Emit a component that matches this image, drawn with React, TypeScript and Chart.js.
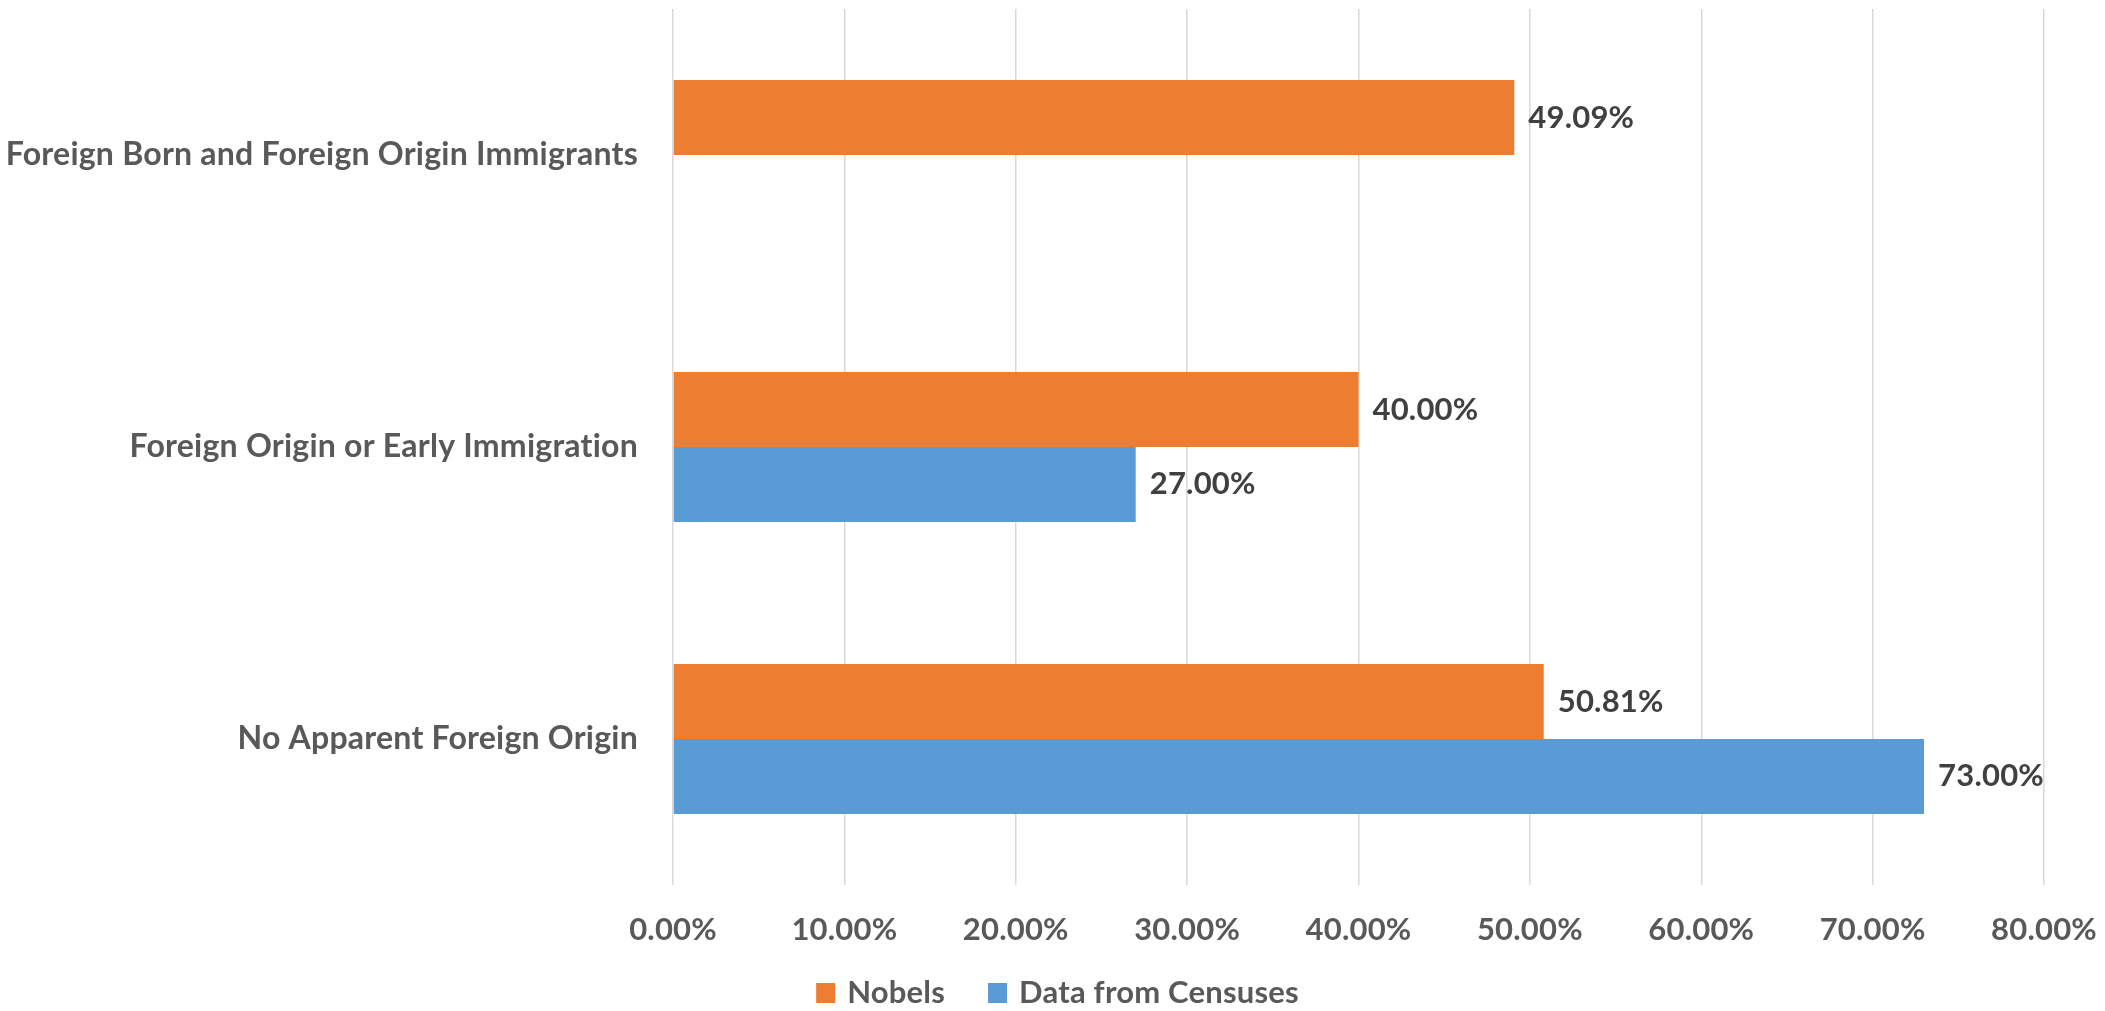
import React, { useEffect, useRef } from 'react';
import { Chart, registerables } from 'chart.js';

Chart.register(...registerables);

const categories = [
  'Foreign Born and Foreign Origin Immigrants',
  'Foreign Origin or Early Immigration',
  'No Apparent Foreign Origin',
];
const seriesNames = ['Nobels', 'Data from Censuses'];
const nobels = [49.09, 40.0, 50.81];
const censuses = [null, 27.0, 73.0];
const xTickValues = [0, 10, 20, 30, 40, 50, 60, 70, 80];
const xTickLabels = ['0.00%', '10.00%', '20.00%', '30.00%', '40.00%', '50.00%', '60.00%', '70.00%', '80.00%'];

const FONT = 'Lato';
const ORANGE = '#ED7D31';
const BLUE = '#5B9BD5';

const textStylePlugin = {
  id: 'textStyle',
  beforeDraw(chart: any) {
    const ctx = chart.ctx as any;
    if ('letterSpacing' in ctx) ctx.letterSpacing = '0.2px';
  },
};

const dataLabelPlugin = {
  id: 'dataLabels',
  afterDatasetsDraw(chart: any) {
    const ctx = chart.ctx;
    ctx.save();
    ctx.font = `bold 31px ${FONT}`;
    ctx.fillStyle = '#404040';
    ctx.textAlign = 'left';
    ctx.textBaseline = 'middle';
    chart.data.datasets.forEach((ds: any, di: number) => {
      const meta = chart.getDatasetMeta(di);
      meta.data.forEach((bar: any, i: number) => {
        const v = ds.data[i];
        if (v == null) return;
        ctx.fillText(v.toFixed(2) + '%', bar.x + 14, bar.y);
      });
    });
    ctx.restore();
  },
};

const legendPlugin = {
  id: 'customLegend',
  afterDraw(chart: any) {
    const ctx = chart.ctx;
    ctx.save();
    ctx.font = `bold 31px ${FONT}`;
    ctx.textAlign = 'left';
    ctx.textBaseline = 'middle';
    const boxW = 19;
    const boxH = 20;
    const gapBoxText = 12;
    const gapItems = 43;
    const items = chart.data.datasets.map((ds: any) => ({
      text: ds.label,
      color: ds.backgroundColor,
      w: ctx.measureText(ds.label).width,
    }));
    let total = 0;
    items.forEach((it: any, i: number) => {
      total += boxW + gapBoxText + it.w + (i < items.length - 1 ? gapItems : 0);
    });
    let x = chart.width / 2 + 5 - total / 2;
    const cy = chart.height - 18;
    items.forEach((it: any) => {
      ctx.fillStyle = it.color;
      ctx.fillRect(x, cy - boxH / 2, boxW, boxH);
      x += boxW + gapBoxText;
      ctx.fillStyle = '#595959';
      ctx.fillText(it.text, x, cy);
      x += it.w + gapItems;
    });
    ctx.restore();
  },
};

function zeroPadding(scale: any) {
  scale.paddingTop = 0;
  scale.paddingBottom = 0;
  scale.paddingLeft = 0;
  scale.paddingRight = 0;
}

export default function App() {
  const ref = useRef<HTMLCanvasElement | null>(null);

  useEffect(() => {
    if (!ref.current) return;
    const chart = new Chart(ref.current, {
      type: 'bar',
      data: {
        labels: categories,
        datasets: [
          {
            label: seriesNames[0],
            data: nobels,
            backgroundColor: ORANGE,
            borderWidth: 0,
            categoryPercentage: 0.513,
            barPercentage: 1,
          },
          {
            label: seriesNames[1],
            data: censuses as any,
            backgroundColor: BLUE,
            borderWidth: 0,
            categoryPercentage: 0.513,
            barPercentage: 1,
          },
        ],
      },
      options: {
        indexAxis: 'y',
        animation: false,
        responsive: true,
        maintainAspectRatio: false,
        layout: { padding: { left: 0, right: 61, top: 9, bottom: 0 } },
        plugins: {
          tooltip: { enabled: false },
          legend: { display: false },
        },
        scales: {
          x: {
            min: 0,
            max: 80,
            afterBuildTicks(scale: any) {
              scale.ticks = xTickValues.map((v) => ({ value: v }));
            },
            afterFit(scale: any) {
              scale.height = 126;
              zeroPadding(scale);
            },
            ticks: {
              padding: 26,
              color: '#595959',
              font: { family: FONT, size: 31, weight: 'bold' },
              maxRotation: 0,
              autoSkip: false,
              callback: (_v: any, i: number) => xTickLabels[i],
            },
            grid: { color: '#D9D9D9', lineWidth: 1.5, drawTicks: false },
            border: { display: false },
          },
          y: {
            afterFit(scale: any) {
              scale.width = 673;
              zeroPadding(scale);
            },
            ticks: {
              padding: 35,
              color: '#595959',
              font: { family: FONT, size: 32.1, weight: 'bold' },
            },
            grid: { display: false, drawTicks: false },
            border: { display: false },
          },
        },
      },
      plugins: [textStylePlugin, dataLabelPlugin, legendPlugin],
    } as any);
    return () => chart.destroy();
  }, []);

  return (
    <div style={{ position: 'fixed', left: 0, top: 0, width: 2105, height: 1011, background: '#fff' }}>
      <canvas ref={ref} />
    </div>
  );
}
